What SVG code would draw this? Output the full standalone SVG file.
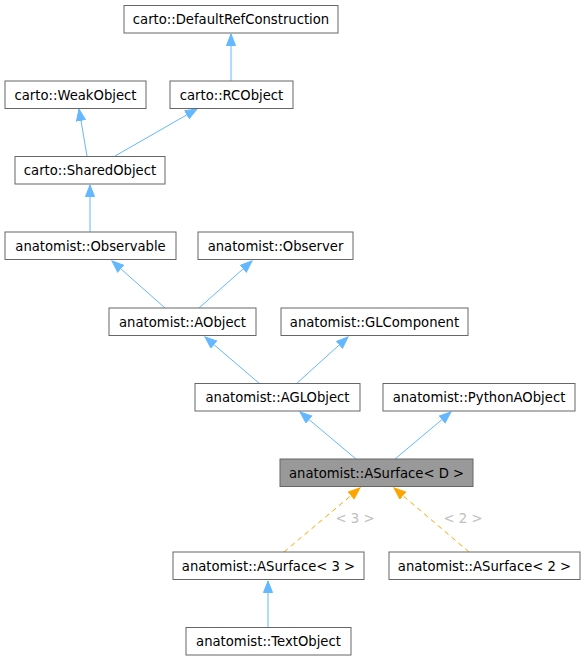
<svg xmlns="http://www.w3.org/2000/svg" width="586" height="661" viewBox="0 0 586 661">
<style>
.n rect{fill:#ffffff;stroke:#666666;stroke-width:1}
.n.cur rect{fill:#999999}
.n text{font-family:"DejaVu Sans","Liberation Sans",sans-serif;font-size:13.2px;fill:#000000;text-anchor:middle}
.e{fill:none;stroke:#63b8ff;stroke-width:1}
.t{fill:none;stroke:#ffa500;stroke-width:1;stroke-dasharray:5,4}
.lbl{font-family:"DejaVu Sans","Liberation Sans",sans-serif;font-size:13.2px;fill:#bebebe;text-anchor:middle}
</style>
<defs>
<marker id="ab" markerUnits="userSpaceOnUse" markerWidth="13" markerHeight="11" refX="12" refY="5" orient="auto" viewBox="0 0 13 11">
<path d="M0.5,0.5 L12,5 L0.5,9.5 z" fill="#63b8ff" stroke="#63b8ff" stroke-width="1"/>
</marker>
<marker id="ao" markerUnits="userSpaceOnUse" markerWidth="13" markerHeight="11" refX="12" refY="5" orient="auto" viewBox="0 0 13 11">
<path d="M0.5,0.5 L12,5 L0.5,9.5 z" fill="#ffa500" stroke="#ffa500" stroke-width="1"/>
</marker>
</defs>
<rect width="586" height="661" fill="#ffffff"/>
<g id="edges">
<line class="e" x1="231" y1="81" x2="231" y2="34" marker-end="url(#ab)"/>
<line class="e" x1="87" y1="156" x2="79" y2="109" marker-end="url(#ab)"/>
<line class="e" x1="115" y1="156" x2="197" y2="109" marker-end="url(#ab)"/>
<line class="e" x1="90" y1="232" x2="90" y2="185" marker-end="url(#ab)"/>
<line class="e" x1="165" y1="308" x2="112" y2="261" marker-end="url(#ab)"/>
<line class="e" x1="199" y1="308" x2="252" y2="261" marker-end="url(#ab)"/>
<line class="e" x1="260" y1="384" x2="205" y2="337" marker-end="url(#ab)"/>
<line class="e" x1="296" y1="384" x2="348" y2="337" marker-end="url(#ab)"/>
<line class="e" x1="356" y1="459" x2="300" y2="412" marker-end="url(#ab)"/>
<line class="e" x1="395" y1="459" x2="451" y2="412" marker-end="url(#ab)"/>
<line class="t" x1="284" y1="552" x2="360" y2="488" marker-end="url(#ao)"/>
<line class="t" x1="469" y1="552" x2="394" y2="488" marker-end="url(#ao)"/>
<line class="e" x1="268" y1="627" x2="268" y2="581" marker-end="url(#ab)"/>
<text class="lbl" x="355" y="523">&lt; 3 &gt;</text>
<text class="lbl" x="463" y="523">&lt; 2 &gt;</text>
</g>
<g id="n_defref" class="n"><rect x="124" y="5.5" width="214" height="27.5"/><text x="231" y="24">carto::DefaultRefConstruction</text></g>
<g id="n_weak" class="n"><rect x="5" y="81" width="141" height="27.5"/><text x="75.5" y="99.5">carto::WeakObject</text></g>
<g id="n_rc" class="n"><rect x="170" y="81" width="123" height="27.5"/><text x="231.5" y="99.5">carto::RCObject</text></g>
<g id="n_shared" class="n"><rect x="15" y="156.5" width="150" height="27.5"/><text x="90" y="175">carto::SharedObject</text></g>
<g id="n_observable" class="n"><rect x="5" y="232" width="171" height="27.5"/><text x="90.5" y="250.5">anatomist::Observable</text></g>
<g id="n_observer" class="n"><rect x="198" y="232" width="155" height="27.5"/><text x="275.5" y="250.5">anatomist::Observer</text></g>
<g id="n_aobject" class="n"><rect x="109" y="308" width="147" height="27.5"/><text x="182.5" y="326.5">anatomist::AObject</text></g>
<g id="n_glcomp" class="n"><rect x="281" y="308" width="187" height="27.5"/><text x="374.5" y="326.5">anatomist::GLComponent</text></g>
<g id="n_agl" class="n"><rect x="195" y="383.5" width="165" height="27.5"/><text x="277.5" y="402">anatomist::AGLObject</text></g>
<g id="n_python" class="n"><rect x="383" y="383.5" width="192" height="27.5"/><text x="479" y="402">anatomist::PythonAObject</text></g>
<g id="n_asurfD" class="n cur"><rect x="280" y="459" width="193" height="27.5"/><text x="376.5" y="477.5">anatomist::ASurface&lt; D &gt;</text></g>
<g id="n_asurf3" class="n"><rect x="173" y="552" width="191" height="27.5"/><text x="268.5" y="570.5">anatomist::ASurface&lt; 3 &gt;</text></g>
<g id="n_asurf2" class="n"><rect x="389" y="552" width="191" height="27.5"/><text x="484.5" y="570.5">anatomist::ASurface&lt; 2 &gt;</text></g>
<g id="n_text" class="n"><rect x="186" y="627.5" width="165" height="27.5"/><text x="268.5" y="646">anatomist::TextObject</text></g>
</svg>
